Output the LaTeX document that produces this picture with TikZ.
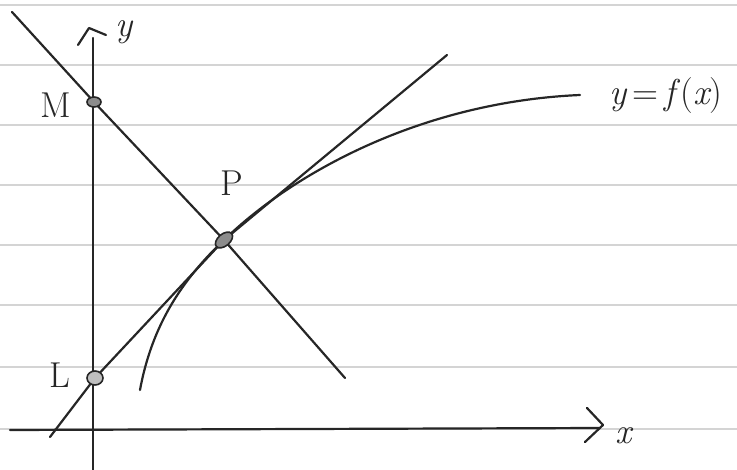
\documentclass[tikz,border=0pt]{standalone}
\usepackage{fontspec}
\begin{document}
\begin{tikzpicture}[x=1pt,y=-1pt,
  paper/.style={draw=black!17,line width=1.6pt},
  ink/.style={draw=black!85,line width=2.2pt,line cap=round,line join=round},
  ptmark/.style={draw=black!85,line width=1.6pt,fill=black!45},
  lab/.style={font=\fontsize{36}{42}\selectfont,text=black!85,inner sep=0pt}]
\useasboundingbox (0,0) rectangle (737,470);
% paper lines
\foreach \yy in {5,65,125,185,245,305,367,429}
  \draw[paper] (0,\yy) -- (737,\yy);
% axes
\coordinate (xs) at (10,430);
\coordinate (xe) at (600,428);
\coordinate (ys) at (93,470);
\coordinate (ye) at (93,38);
\draw[ink] (xs) -- (xe);
\draw[ink] (ys) -- (ye);
\coordinate (xa1) at (587,408);
\coordinate (xa2) at (603,425);
\coordinate (xa3) at (585,442);
\draw[ink] (xa1) -- (xa2) -- (xa3);
\coordinate (ya1) at (78,45);
\coordinate (ya2) at (89,28);
\coordinate (ya3) at (106,35);
\draw[ink] (ya1) -- (ya2) -- (ya3);
% points
\coordinate (M) at (94,102);
\coordinate (P) at (224,240);
\coordinate (L) at (95,378);
% normal line through M and P
\coordinate (n1) at (12,12);
\coordinate (n2) at (345,378);
\draw[ink] (n1) -- (M) -- (P) -- (n2);
% tangent line through L and P
\coordinate (t1) at (50,437);
\coordinate (t2) at (447,55);
\draw[ink] (t1) -- (L) -- (P) -- (t2);
% curve
\coordinate (c1) at (140,390);
\coordinate (c2) at (580,95);
\draw[ink] (c1) .. controls (152,325) and (182,280) .. (P)
   .. controls (292,174) and (420,102) .. (c2);
% marks
\draw[ptmark] (M) ellipse [x radius=7,y radius=5];
\draw[ptmark,rotate around={40:(P)}] (P) ellipse [x radius=10,y radius=6];
\draw[ptmark,fill=black!25] (L) ellipse [x radius=8,y radius=7];
% labels
\node[lab] (lM) at (56,105) {M};
\node[lab] (lL) at (60,375) {L};
\node[lab] (lP) at (232,183) {P};
\node[lab] (ly) at (124,32) {\itshape y};
\node[lab] (lx) at (624,436) {\itshape x};
\node[lab] (lf) at (666,96) {{\itshape y}\,=\,{\itshape f\/}({\itshape x})};
\end{tikzpicture}
\end{document}
